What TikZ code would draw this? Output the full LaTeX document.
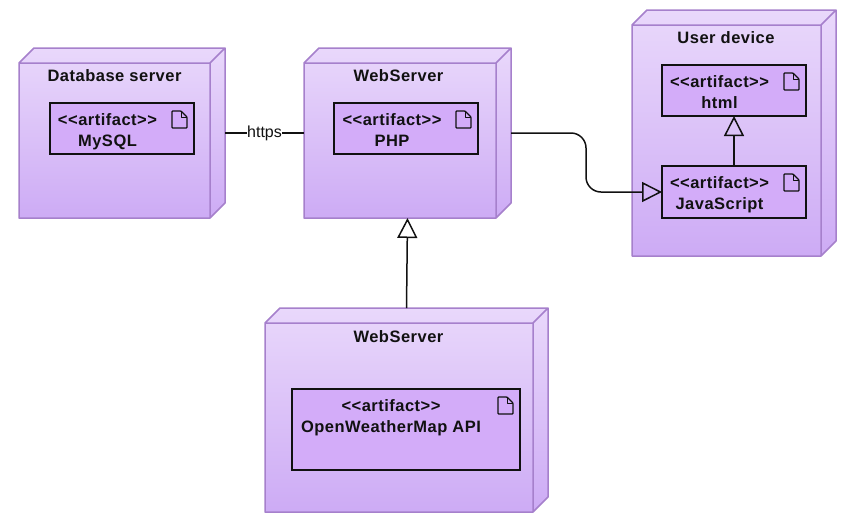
\documentclass[tikz,border=0pt]{standalone}
\usepackage{fontspec}
\setmainfont{Liberation Sans}
\newfontfamily\spacedfont[LetterSpace=3.0]{Liberation Sans}
\usetikzlibrary{arrows.meta,calc}
\definecolor{nodeedge}{HTML}{A680CC}
\definecolor{gradtop}{HTML}{E9D8FB}
\definecolor{gradbot}{HTML}{CDABF5}
\definecolor{artfill}{HTML}{D3ACF9}
\definecolor{ink}{HTML}{111111}
\tikzset{
  boxarea/.style={inner sep=0pt,outer sep=0pt},
  nodetitle/.style={font=\spacedfont\bfseries\fontsize{16.5}{19}\selectfont,text=ink,inner sep=0pt},
  artbox/.style={draw=ink,line width=1.6pt,fill=artfill,inner sep=0pt,outer sep=0pt},
  arttext/.style={font=\spacedfont\bfseries\fontsize{16.5}{21}\selectfont,text=ink,align=center,inner sep=0pt},
  docicon/.style={draw=ink,line width=1.3pt,line join=round,rounded corners=0.8pt},
  link/.style={draw=ink,line width=1.5pt},
  realize/.style={link,-{Triangle[open,length=20pt,width=20pt,fill=none]}},
  httplabel/.style={font=\fontsize{16}{19}\selectfont,fill=white,inner sep=0.5pt,text=ink}
}
% #1 name, #2 x1, #3 y1 (front top), #4 x2, #5 y2, #6 depth, #7 title, #8 title x, #9 title y
\newcommand{\cubenode}[9]{%
  \path[top color=gradtop,bottom color=gradbot]
    (#2,#3) -- (#2+#6,#3-#6) -- (#4+#6,#3-#6) -- (#4+#6,#5-#6) -- (#4,#5) -- (#2,#5) -- cycle;
  \draw[nodeedge,line width=1.5pt,line join=round]
    (#2,#3) -- (#2+#6,#3-#6) -- (#4+#6,#3-#6) -- (#4+#6,#5-#6) -- (#4,#5) -- (#2,#5) -- cycle
    (#2,#3) -- (#4,#3) -- (#4,#5) (#4,#3) -- (#4+#6,#3-#6);
  \node[boxarea,minimum width={(#4+#6-#2)*1pt},minimum height={(#5-#3+#6)*1pt}]
    (#1) at ({(#2+#4+#6)/2},{(#3-#6+#5)/2}) {};
  \node[nodetitle] (#1title) at (#8,#9) {#7};
}
% #1 name, #2 x1, #3 y1, #4 x2, #5 y2, #6 text centre x, #7 text
\newcommand{\artifactbox}[7]{%
  \node[artbox,minimum width={(#4-#2)*1pt},minimum height={(#5-#3)*1pt}]
    (#1) at ({(#2+#4)/2},{(#3+#5)/2}) {};
  \node[arttext,anchor=north] (#1text) at (#6,#3+10.5) {<{}<artifact>{}>\\#7};
  \draw[docicon] (#4-22,#3+8) -- (#4-22,#3+25) -- (#4-7,#3+25) -- (#4-7,#3+14) -- (#4-13,#3+8) -- cycle;
  \draw[docicon,rounded corners=0pt,line width=1pt] (#4-13,#3+8) -- (#4-13,#3+14) -- (#4-7,#3+14);
}
\begin{document}
\begin{tikzpicture}[x=1pt,y=-1pt]
\useasboundingbox (0,0) rectangle (842,520);
\fill[white] (0,0) rectangle (842,520);
\cubenode{db}{19}{63}{210}{218}{15}{Database server}{114.5}{75.5}
\cubenode{web}{304}{63}{496}{218}{15}{WebServer}{398.5}{75.5}
\cubenode{device}{632}{25}{821}{256}{15}{User device}{726}{37.5}
\cubenode{api}{265}{323}{533}{512}{15}{WebServer}{398.5}{336.5}
\artifactbox{mysql}{50}{103}{194}{154}{107.5}{MySQL}
\artifactbox{php}{334}{103}{478}{154}{392}{PHP}
\artifactbox{html}{662}{65}{806}{116}{719.5}{html}
\artifactbox{js}{662}{166}{806}{218}{719.5}{JavaScript}
\artifactbox{owm}{292}{389}{520}{470}{391}{OpenWeatherMap API}
\coordinate (bend) at (586,160);
\draw[link] (db.east) -- node[httplabel] (https) {https} (web.west);
\draw[realize,rounded corners=15pt] (web.east) -- (web.east -| bend) -- (bend |- js.west) -- (js.west);
\draw[realize] (js.north) -- (html.south);
\draw[realize] (api.north) -- (web.south);
\end{tikzpicture}
\end{document}
